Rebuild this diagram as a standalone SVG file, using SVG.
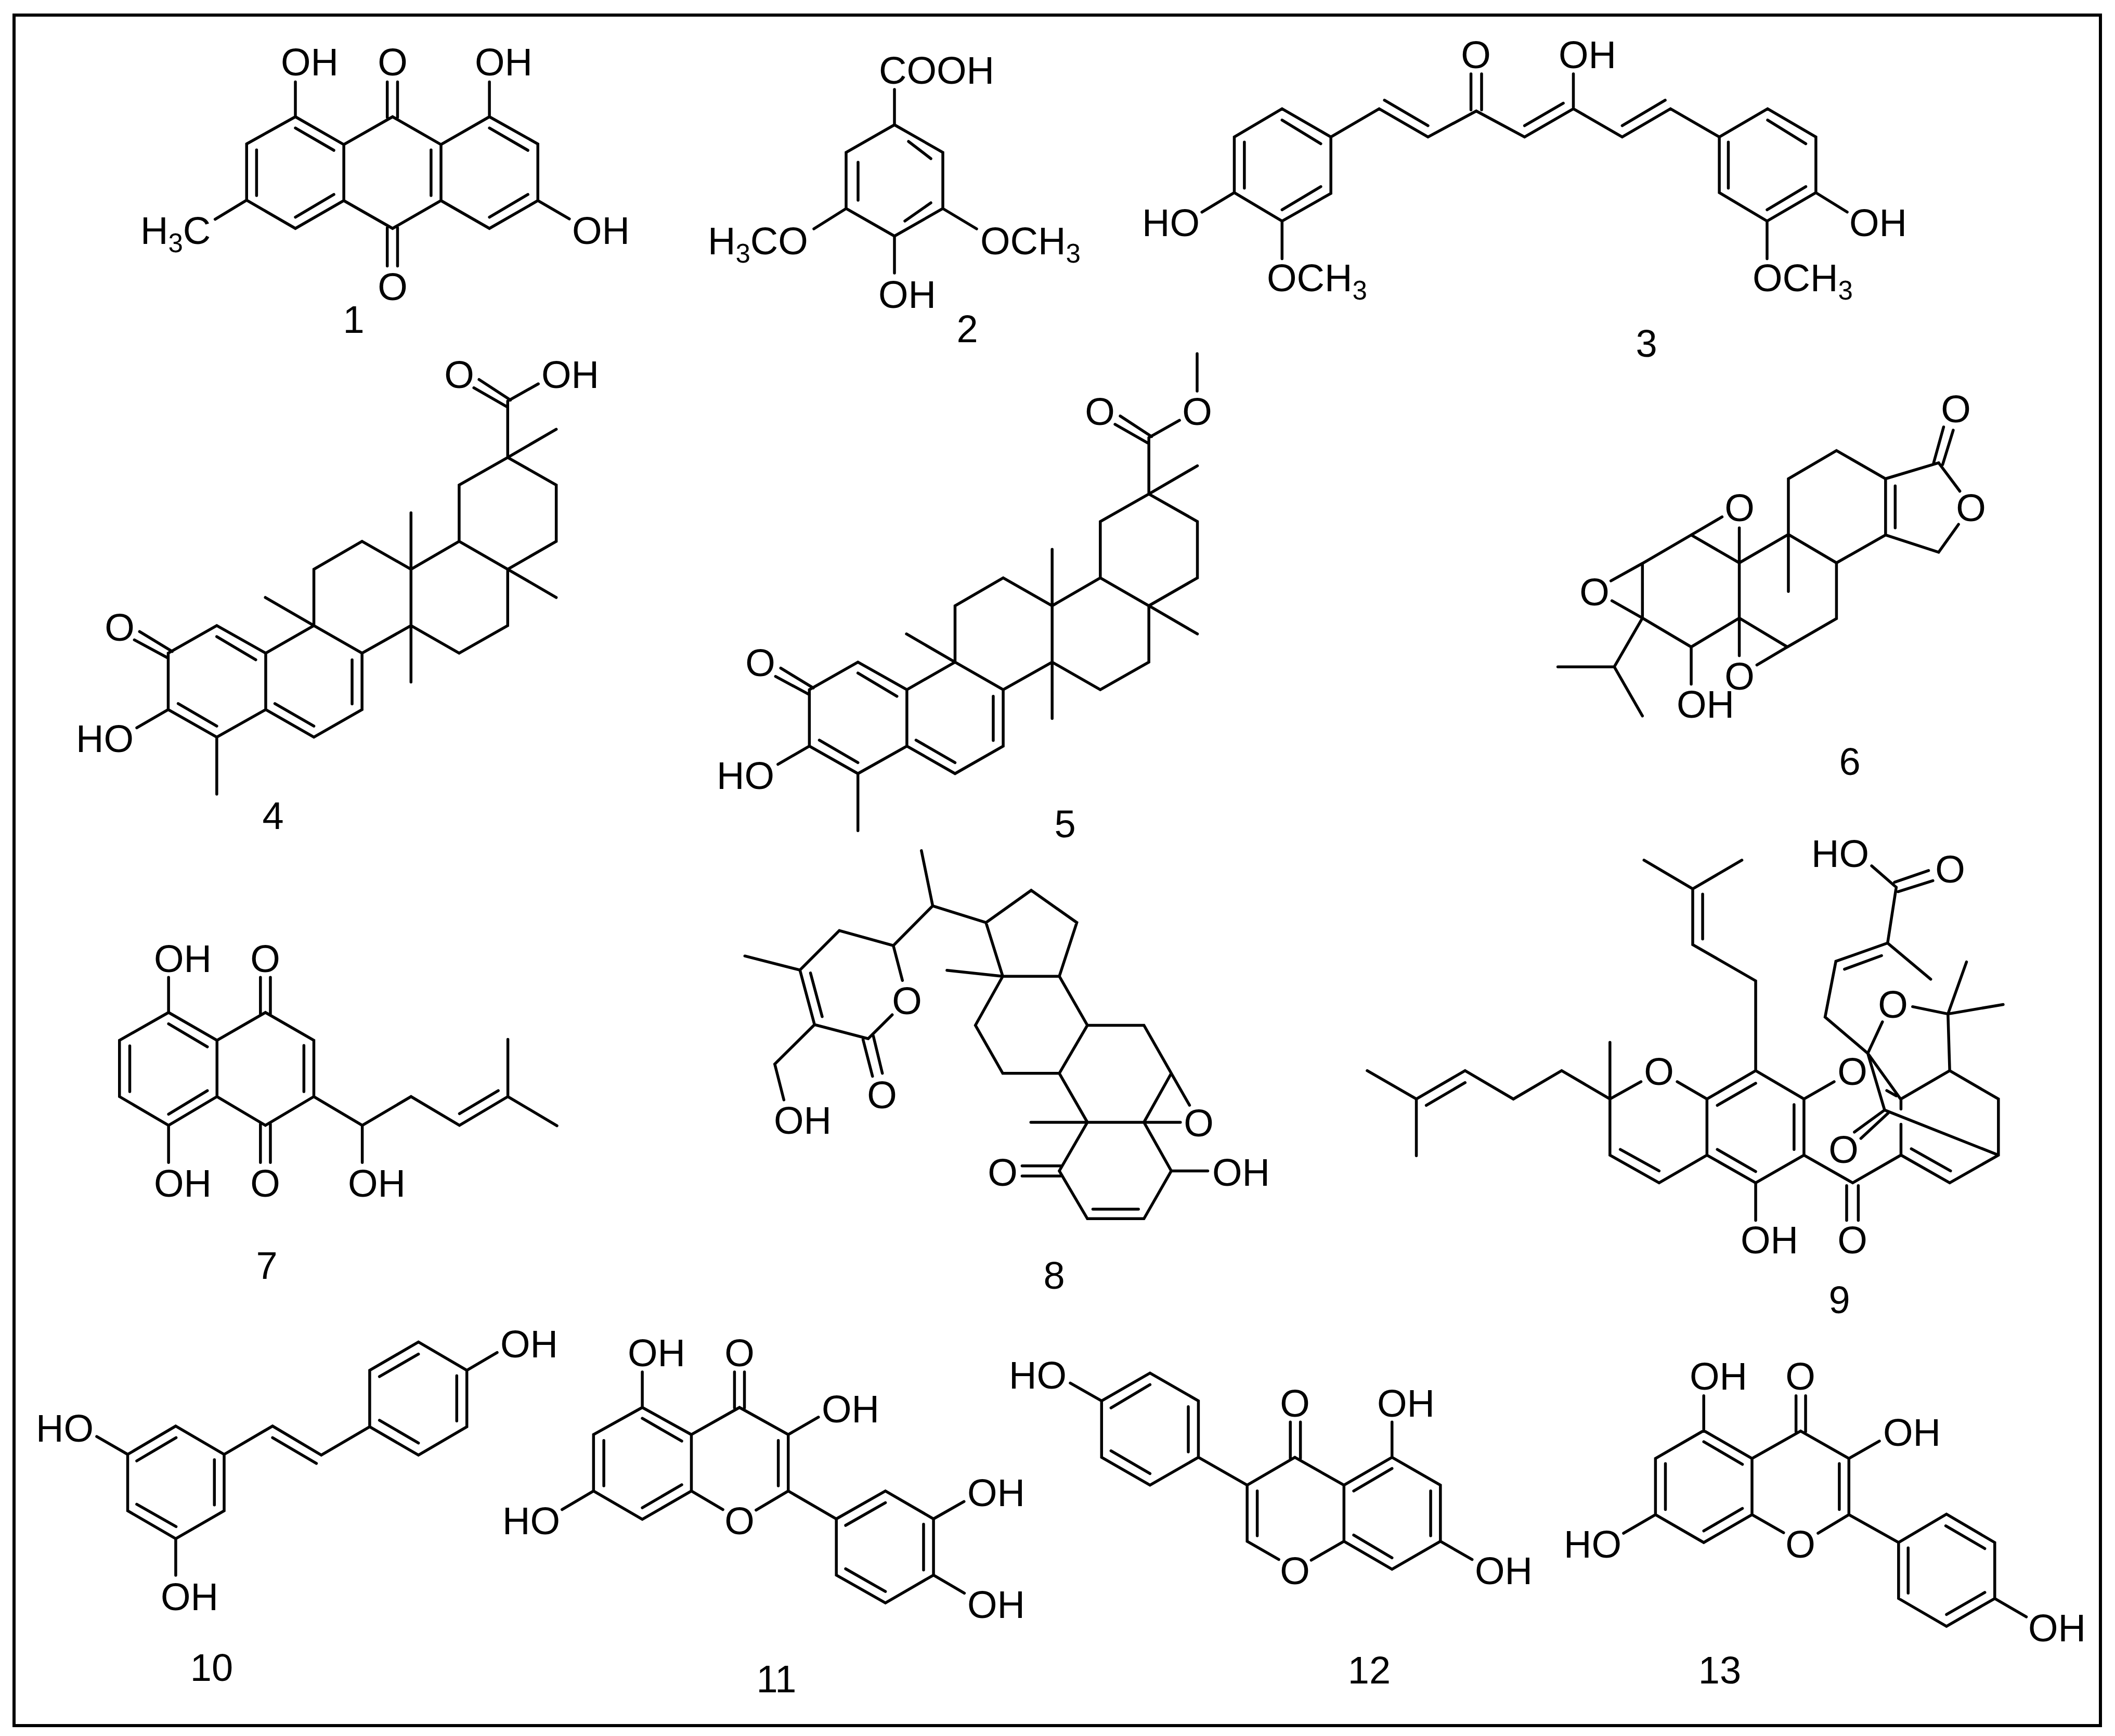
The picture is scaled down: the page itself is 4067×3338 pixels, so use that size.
<svg xmlns="http://www.w3.org/2000/svg" width="4067" height="3338" viewBox="0 0 4067 3338">
<style>
.b{fill:none;stroke:#000;stroke-width:5.5;stroke-linecap:round;stroke-linejoin:miter;vector-effect:non-scaling-stroke}
text{font-family:"Liberation Sans",Arial,sans-serif;font-size:74px;fill:#000}
.m{text-anchor:middle}
.s{font-size:51px}
</style>
<defs>
<path id="triterpene" class="b" d="M292 950L414 867L537 950L537 1120L414 1203L292 1120ZM414 900L512 970M317 1102L414 1170M537 950L658 867L779 950L779 1120L658 1203L537 1120M754 970L754 1103M560 1102L658 1170M658 867L658 697L779 613L902 697L902 867L779 950M902 697L1023 613L1145 697L1145 867L1023 950L902 867M1023 613L1023 443L1145 360L1267 443L1267 613L1145 697M658 867L536 782M902 527L902 1037M1145 697L1267 782M1145 360L1267 275M1145 360L1145 190M1145 190L1222 138M1143 207L1060 150M1152 187L1073 125M292 965L207 910M302 945L220 885M292 1120L213 1175M414 1203L414 1375"/>
</defs>
<rect id="frame" x="27" y="29" width="4012" height="3289" fill="#fff" stroke="#000" stroke-width="6"/>

<g id="compound-1">
<path class="b" transform="translate(200 40) scale(.6378 .4082)" d="M430 580L577 452L723 583L723 847L577 978L430 845ZM723 583L870 452L1016 583L1016 847L870 978L723 847M1016 583L1162 452L1308 580L1308 847L1162 978L1016 847M460 608L460 823M577 505L693 610M577 925L693 818M986 608L986 823M1162 505L1278 610M1162 925L1278 818M577 288L577 452M1162 288L1162 452M854 288L854 455M885 288L885 455M854 975L854 1155M885 975L885 1155M430 845L335 935M1308 847L1403 933"/>
<text x="540" y="145">OH</text><text x="755" y="145" class="m">O</text><text x="913" y="145">OH</text>
<text x="270" y="469">H<tspan class="s" dy="16">3</tspan><tspan dy="-16">C</tspan></text><text x="1100" y="469">OH</text>
<text x="755" y="577" class="m">O</text><text x="680" y="640" class="m">1</text>
</g>

<g id="compound-2">
<path class="b" d="M1720 240L1813 293L1813 401L1720 454L1627 401L1627 293ZM1720 172L1720 240M1747 272L1790 305M1790 390L1740 425M1650 312L1650 385M1720 454L1720 525M1627 401L1565 440M1813 401L1878 440"/>
<text x="1690" y="161">COOH</text>
<text x="1361" y="489">H<tspan class="s" dy="16">3</tspan><tspan dy="-16">CO</tspan></text>
<text x="1885" y="489">OCH<tspan class="s" dy="16">3</tspan></text>
<text x="1689" y="592">OH</text><text x="1860" y="658" class="m">2</text>
</g>

<g id="compound-3">
<path class="b" transform="translate(2100 40) scale(1.0204 .4337)" d="M268 515L358 390L450 515L450 765L358 888L268 762ZM287 538L287 742M358 440L431 545M358 838L431 735M450 515L541 390L633 515L724 400L815 515L907 390L999 515L1090 390L1182 515M551 352L633 465M815 465L888 365M999 465L1080 352M714 235L714 395M734 235L734 395M907 235L907 390M1182 515L1273 390L1364 515L1364 762L1272 888L1182 762ZM1199 538L1199 742M1273 440L1345 545M1272 838L1345 735M268 762L207 848M1364 762L1423 848M358 888L358 1055M1272 888L1272 1055"/>
<text x="2838" y="131" class="m">O</text><text x="2997" y="131">OH</text>
<text x="2196" y="454">HO</text><text x="3556" y="454">OH</text>
<text x="2436" y="560">OCH<tspan class="s" dy="16">3</tspan></text><text x="3370" y="560">OCH<tspan class="s" dy="16">3</tspan></text>
<text x="3166" y="686" class="m">3</text>
</g>

<g id="compound-4">
<use href="#triterpene" transform="translate(100 650) scale(.7653 .6378)"/>
<text x="230" y="1232" class="m">O</text><text x="146" y="1446">HO</text>
<text x="883" y="746" class="m">O</text><text x="1041" y="746">OH</text>
<text x="525" y="1594" class="m">4</text>
</g>

<g id="compound-5">
<use href="#triterpene" transform="translate(1332.9 720.2) scale(.7653 .6378)"/>
<path class="b" d="M2302 752L2302 680"/>
<text x="1462" y="1300" class="m">O</text><text x="1378" y="1517">HO</text>
<text x="2115" y="817" class="m">O</text><text x="2302" y="817" class="m">O</text>
<text x="2048" y="1610" class="m">5</text>
</g>

<g id="compound-6">
<path class="b" transform="translate(2900 720) scale(.6378 .5102)" d="M845 603L845 393L990 287L1138 393L1138 605L990 710ZM1138 393L1298 333L1362 440M1358 565L1298 670L1138 605M1167 420L1167 578M1283 333L1313 198M1310 340L1342 210M845 603L697 710L552 605L405 712L405 918L552 1027L697 918L842 1027L990 920L990 710M697 578L697 1060M552 605L645 537M842 1027L750 1095M405 712L310 778M405 918L313 853M845 603L845 818M405 918L320 1102M320 1102L150 1102M320 1102L405 1287M552 1027L552 1167"/>
<text x="3761" y="812" class="m">O</text><text x="3790" y="1002" class="m">O</text><text x="3345" y="1002" class="m">O</text>
<text x="3066" y="1164" class="m">O</text><text x="3345" y="1326" class="m">O</text><text x="3224" y="1380">OH</text>
<text x="3557" y="1490" class="m">6</text>
</g>

<g id="compound-7">
<path class="b" transform="translate(180 1780) scale(.6378 .3571)" d="M78 617L226 467L372 617L372 920L226 1075L78 920ZM109 647L109 893M226 528L343 652M226 1015L343 888M372 617L518 467L664 617L664 920L518 1075L372 920M634 645L634 893M503 278L503 475M533 278L533 475M503 1068L503 1275M533 1068L533 1275M226 278L226 467M226 1075L226 1275M664 920L810 1075L810 1275M810 1075L957 920L1103 1075L1249 920L1249 612M1249 920L1397 1077M1103 1012L1220 888"/>
<text x="296" y="1869">OH</text><text x="510" y="1869" class="m">O</text>
<text x="296" y="2301">OH</text><text x="510" y="2301" class="m">O</text><text x="669" y="2301">OH</text>
<text x="513" y="2459" class="m">7</text>
</g>

<g id="compound-8">
<path class="b" transform="translate(1400 1600) scale(.7015 .574)" d="M530 62L561 247L707 303M561 247L453 380L305 330L197 462L46 415M197 462L237 645L384 692L450 612M226 472L258 618M453 380L478 497M237 645L128 777L153 897M370 695L396 818M398 682L423 808M707 303L831 195L956 303L908 483L753 483ZM753 483L600 463M753 483L678 647L753 808L908 808L985 647L908 483M985 647L1140 647L1215 808L1140 972L985 972L908 808M985 972L830 972M1140 972L1240 972M1215 808L1265 915M985 972L908 1135L985 1295L1140 1295L1215 1135L1140 972M1000 1263L1125 1263M1215 1135L1315 1135M806 1118L912 1118M806 1152L912 1152"/>
<text x="1744" y="1950" class="m">O</text><text x="1488" y="2180">OH</text><text x="1696" y="2131" class="m">O</text>
<text x="2305" y="2185" class="m">O</text><text x="1928" y="2280" class="m">O</text><text x="2331" y="2280">OH</text>
<text x="2027" y="2478" class="m">8</text>
</g>

<g id="compound-9">
<path class="b" transform="translate(2600 1580) scale(.8291 .6059)" d="M35 790L149 880L149 1060M149 880L262 790L374 880L486 790L598 880L598 700M172 900L262 828M598 880L670 825M598 880L598 1058L712 1146L823 1058M622 1040L712 1108M754 825L823 880L823 1058M823 880L936 790L1048 880L1048 1058L936 1146L823 1058M847 900L936 830M1025 898L1025 1040M847 1040L936 1110M936 790L936 505L790 390L790 213L677 122M790 213L904 122M813 372L813 230M1048 880L1118 825M936 1146L936 1265M1048 1058L1161 1146L1273 1058L1386 1146L1499 1058L1499 880L1386 790L1273 880L1273 912M1147 1155L1147 1265M1174 1155L1174 1265M1297 1038L1388 1108M1273 960L1273 1058M1386 790L1382 610L1425 445M1382 610L1510 580M1382 610L1300 587M1196 735L1230 635M1196 735L1272 880M1196 735L1235 915L1499 1058M1196 735L1097 620L1122 443L1242 385L1262 208L1205 140M1142 468L1228 425M1242 385L1342 500M1235 915L1165 985M1243 925L1180 1005M1240 853L1262 870M1258 192L1337 155M1266 222L1347 187"/>
<text x="3190" y="2086" class="m">O</text><text x="3562" y="2086" class="m">O</text><text x="3545" y="2236" class="m">O</text>
<text x="3347" y="2410">OH</text><text x="3562" y="2410" class="m">O</text>
<text x="3483" y="1667">HO</text><text x="3750" y="1697" class="m">O</text><text x="3640" y="1957" class="m">O</text>
<text x="3537" y="2525" class="m">9</text>
</g>

<g id="compound-10">
<path class="b" transform="translate(50 2530) scale(.6696 .4464)" d="M430 475L569 597L569 840L430 960L292 840L292 597ZM431 525L318 625M541 620L541 815M318 812L431 908M569 597L708 475L848 600L987 478M708 525L834 636M987 478L987 235L1127 113L1266 235L1266 478L1127 600ZM1015 262L1127 165M1237 258L1237 453M1015 450L1127 548M1266 235L1353 158M292 597L203 520M430 960L430 1118"/>
<text x="962" y="2610">OH</text><text x="69" y="2772">HO</text><text x="309" y="3096">OH</text>
<text x="407" y="3232" class="m">10</text>
</g>

<g id="compound-11">
<path class="b" transform="translate(950 2550) scale(.6378 .4464)" d="M300 467L447 350L595 467L595 710L447 832L300 710ZM331 492L331 688M447 397L566 495M447 782L566 683M595 467L740 350L887 467L887 710L790 792M690 790L595 710M857 492L857 688M725 197L725 352M755 197L755 352M447 197L447 350M887 467L978 392M300 710L205 790M887 710L1032 830M1032 830L1180 710L1325 830L1325 1072L1180 1192L1032 1072ZM1060 858L1180 760M1295 853L1295 1050M1060 1045L1180 1143M1325 830L1417 755M1325 1072L1418 1150"/>
<text x="1207" y="2627">OH</text><text x="1422" y="2627" class="m">O</text><text x="1580" y="2735">OH</text>
<text x="966" y="2950">HO</text><text x="1422" y="2950" class="m">O</text>
<text x="1860" y="2896">OH</text><text x="1860" y="3111">OH</text>
<text x="1493" y="3254" class="m">11</text>
</g>

<g id="compound-12">
<path class="b" transform="translate(1900 2570) scale(.6696 .4464)" d="M326 277L465 157L604 277L604 520L465 640L326 520ZM353 307L465 207M575 302L575 497M353 492L465 590M604 520L744 640L881 520L1022 640L1022 882L928 963M835 960L744 882L744 640M773 665L773 858M868 368L868 525M897 368L897 525M1022 640L1160 520L1299 640L1299 882L1160 1002L1022 882M1050 665L1160 568M1271 665L1271 858M1050 855L1160 953M1160 368L1160 520M1299 882L1390 960M326 277L236 200"/>
<text x="1940" y="2670">HO</text><text x="2490" y="2724" class="m">O</text><text x="2648" y="2724">OH</text>
<text x="2490" y="3046" class="m">O</text><text x="2836" y="3046">OH</text>
<text x="2633" y="3237" class="m">12</text>
</g>

<g id="compound-13">
<path class="b" transform="translate(2950 2570) scale(.6824 .4464)" d="M342 525L478 405L614 525L614 767L478 887L342 767ZM370 547L370 745M478 453L587 550M478 837L587 740M614 525L751 407L887 525L887 767L800 847M703 845L614 767M860 547L860 745M738 255L738 410M765 255L765 410M478 255L478 405M887 525L973 450M342 767L252 847M887 767L1027 887M1027 887L1162 765L1298 887L1298 1128L1162 1248L1027 1128ZM1160 815L1270 913M1054 910L1054 1105M1162 1197L1270 1102M1298 1128L1387 1207"/>
<text x="3249" y="2672">OH</text><text x="3462" y="2672" class="m">O</text><text x="3621" y="2780">OH</text>
<text x="3007" y="2995">HO</text><text x="3462" y="2995" class="m">O</text><text x="3900" y="3156">OH</text>
<text x="3307" y="3237" class="m">13</text>
</g>
</svg>
